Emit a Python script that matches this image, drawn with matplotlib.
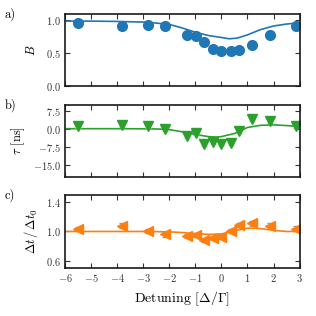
import matplotlib
matplotlib.use("Agg")
import matplotlib.pyplot as plt
import numpy as np

plt.rcParams.update({
    "font.family": "serif",
    "font.serif": ["cmr10"],
    "mathtext.fontset": "cm",
    "axes.formatter.use_mathtext": True,
    "axes.unicode_minus": True,
})

# detuning of measured points
det = [-5.5, -3.82, -2.8, -2.15, -1.32, -0.97, -0.65, -0.32, 0.0, 0.35, 0.68, 1.18, 1.86, 2.85]

# panel a
B_pts = [0.96, 0.91, 0.93, 0.92, 0.78, 0.76, 0.67, 0.56, 0.54, 0.53, 0.55, 0.62, 0.78, 0.92]
fit_a_x = [-6, -5, -4, -3, -2.5, -2, -1.5, -1, -0.5, 0, 0.3, 0.6, 1.0, 1.5, 2.0, 2.5, 3.0]
fit_a_y = [0.99, 0.99, 0.985, 0.975, 0.96, 0.94, 0.885, 0.82, 0.77, 0.74, 0.72, 0.73, 0.78, 0.86, 0.915, 0.945, 0.965]

# panel b
tau_pts = [1.3, 1.75, 1.2, 0.1, -2.9, -1.6, -6.4, -5.3, -6.1, -6.0, -1.0, 4.0, 3.2, 1.05]
tau_err = [0.8] * 14
fit_b_x = [-6, -4, -3, -2.5, -2, -1.5, -1, -0.5, -0.2, 0, 0.5, 1.0, 1.5, 2.0, 2.5, 3.0]
fit_b_y = [0.1, 0.1, 0.05, 0.0, -0.3, -1.2, -2.3, -3.2, -3.4, -3.2, -1.9, 0.6, 1.5, 1.7, 1.4, 1.0]

# panel c
dt_pts = [1.03, 1.08, 1.01, 0.96, 0.94, 0.95, 0.88, 0.91, 0.93, 1.01, 1.09, 1.11, 1.08, 1.04]
dt_err = [0.03] * 14
fit_c_x = [-6, -3, -2, -1.5, -1, -0.5, 0, 0.5, 1.0, 1.5, 2.0, 2.5, 3.0]
fit_c_y = [1.0, 1.0, 0.995, 0.985, 0.97, 0.96, 0.965, 1.01, 1.045, 1.04, 1.015, 1.0, 1.0]

blue, green, orange = "#1f77b4", "#2ca02c", "#ff7f0e"

fig = plt.figure(figsize=(3.16, 3.16), dpi=100)
L, W = 0.206, 0.742
axa = fig.add_axes([L, 0.728, W, 0.228])
axb = fig.add_axes([L, 0.440, W, 0.228])
axc = fig.add_axes([L, 0.152, W, 0.231])

for ax in (axa, axb, axc):
    ax.set_xlim(-6, 3)
    ax.set_xticks(np.arange(-6, 4, 1))
    ax.tick_params(direction="in", top=True, right=True, length=3.5, width=0.8,
                   labelsize=7.5, colors="0.2", pad=3)
    for s in ax.spines.values():
        s.set_linewidth(1.2)
        s.set_color("0.1")

axa.plot(fit_a_x, fit_a_y, color=blue, lw=1.2)
axa.plot(det, B_pts, "o", color=blue, ms=7)
axa.set_ylim(0, 1.1)
axa.set_yticks([0.0, 0.5, 1.0])
axa.set_ylabel("$B$", fontsize=9, labelpad=6)
axa.tick_params(labelbottom=False)

axb.plot(fit_b_x, fit_b_y, color=green, lw=1.2)
axb.errorbar(det, tau_pts, yerr=tau_err, fmt="v", color=green, ms=7,
             ecolor="#9fd89f", elinewidth=0.8, capsize=2.5)
axb.set_ylim(-20, 10)
axb.set_yticks([-15, -7.5, 0, 7.5])
axb.set_yticklabels(["$-15.0$", "$-7.5$", "$0.0$", "$7.5$"])
axb.set_ylabel(r"$\tau$ [ns]", fontsize=9, labelpad=4)
axb.tick_params(labelbottom=False)

axc.plot(fit_c_x, fit_c_y, color=orange, lw=1.2)
axc.errorbar(det, dt_pts, yerr=dt_err, fmt="<", color=orange, ms=7,
             ecolor="0.6", elinewidth=0.8, capsize=2.5)
axc.set_ylim(0.5, 1.5)
axc.set_yticks([0.6, 1.0, 1.4])
axc.set_ylabel(r"$\Delta t\,/\,\Delta t_0$", fontsize=9, labelpad=4)
axc.set_xlabel(r"Detuning [$\Delta/\Gamma$]", fontsize=10)

fig.text(0.015, 0.945, "a)", fontsize=9)
fig.text(0.015, 0.655, "b)", fontsize=9)
fig.text(0.015, 0.37, "c)", fontsize=9)

fig.savefig("out.png", dpi=100)
